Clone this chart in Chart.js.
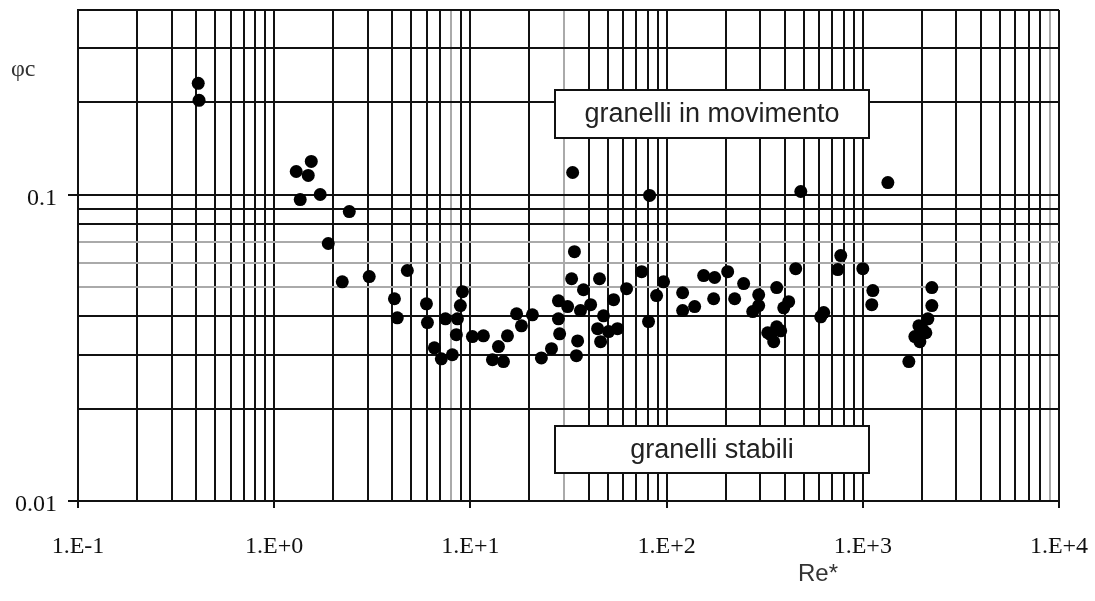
<!DOCTYPE html>
<html>
<head>
<meta charset="utf-8">
<script src="https://cdn.jsdelivr.net/npm/chart.js@4.4.1/dist/chart.umd.min.js"></script>
<style>
  html, body { margin: 0; padding: 0; background: #fff; overflow: hidden; }
  #wrap { width: 1095px; height: 601px; position: relative; }
  #chart { display: block; }
</style>
</head>
<body>
<div id="wrap"><canvas id="chart"></canvas></div>
<script>
// --- Data (Re*, phi_c) ---
const reValues = [
  0.41, 0.414, 1.295, 1.491, 1.545, 1.357, 1.716, 2.414, 1.886, 2.223,
  3.05, 4.77, 4.10, 4.24, 5.97, 6.04, 6.55, 7.11, 8.09, 7.46,
  8.59, 8.89, 9.11, 8.48, 10.24, 11.65, 33.2, 81.9, 33.9, 32.8,
  45.5, 37.7, 28.1, 31.3, 36.4, 41.0, 53.7, 62.5, 74.6, 96.5,
  88.9, 120.7, 120.7, 139, 154.5, 80.9, 47.7, 44.5, 50.6, 56.2,
  46.1, 35.2, 34.7, 28.5, 28.1, 20.7, 17.2, 18.2, 15.45, 13.9,
  12.95, 14.74, 25.9, 23.0, 483, 1342, 175.7, 204.8, 247, 173.7,
  222.3, 294.7, 364, 294.7, 274.8, 419, 395.4, 455, 364, 339.4,
  351.5, 381.6, 327.6, 632, 610.6, 772, 745.6, 1000, 1125, 1111,
  2249, 2249, 2146, 1931, 2096, 1842, 1954, 1717, 2023
];
const phiValues = [
  0.2306, 0.2029, 0.1189, 0.1154, 0.1282, 0.0963, 0.1000, 0.0880, 0.0692, 0.0519,
  0.0540, 0.0565, 0.0457, 0.0396, 0.0440, 0.0382, 0.0316, 0.0291, 0.0300, 0.0393,
  0.0393, 0.0434, 0.0482, 0.0349, 0.0344, 0.0346, 0.1180, 0.0993, 0.0651, 0.0531,
  0.0531, 0.0489, 0.0450, 0.0431, 0.0418, 0.0437, 0.0454, 0.0493, 0.0560, 0.0519,
  0.0468, 0.0478, 0.0418, 0.0431, 0.0544, 0.0385, 0.0402, 0.0365, 0.0357, 0.0365,
  0.0331, 0.0333, 0.0298, 0.0351, 0.0393, 0.0405, 0.0408, 0.0373, 0.0346, 0.0319,
  0.0289, 0.0285, 0.0314, 0.0293, 0.1023, 0.1094, 0.0536, 0.0560, 0.0512, 0.0457,
  0.0457, 0.0471, 0.0497, 0.0434, 0.0415, 0.0447, 0.0427, 0.0573, 0.0370, 0.0349,
  0.0331, 0.0359, 0.0354, 0.0412, 0.0399, 0.0632, 0.0569, 0.0573, 0.0486, 0.0437,
  0.0497, 0.0434, 0.0393, 0.0373, 0.0354, 0.0344, 0.0331, 0.0285, 0.0362
];

// --- Axis ticks ---
const xTickValues = [0.1, 1, 10, 100, 1000, 10000];
const xTickLabels = ['1.E-1', '1.E+0', '1.E+1', '1.E+2', '1.E+3', '1.E+4'];
const yTickValues = [0.01, 0.1];
const yTickLabels = ['0.01', '0.1'];
const yMax = 0.4;

// gridlines that show up faint grey in the original
const xFaintLines = [8, 30, 9000];
const yFaintLines = [0.05, 0.06, 0.07];

const boxLabels = ['granelli in movimento', 'granelli stabili'];

// minor grid: 1..9 x each decade
function decadeGrid(decades, top) {
    const out = [];
    decades.forEach((d, i) => {
        out.push(d);
        if (i === decades.length - 1) return;
        for (let k = 2; k <= 9; k++) {
            const v = +(k * d).toPrecision(6);
            if (v <= top) out.push(v);
        }
    });
    return out;
}
const xGrid = decadeGrid(xTickValues, 10000);
const yGrid = decadeGrid(yTickValues.concat([1]), yMax).filter(v => v <= yMax);

const points = reValues.map((x, i) => ({ x, y: phiValues[i] }));

const LINE = '#111';
const FAINT = '#aaa';

const annotations = {
    id: 'annotations',
    afterDraw(chart) {
        const ctx = chart.ctx;
        ctx.save();
        // text boxes
        const boxes = [
            { x: 555, y: 90, w: 314, h: 48, text: boxLabels[0] },
            { x: 555, y: 426, w: 314, h: 47, text: boxLabels[1] }
        ];
        boxes.forEach(b => {
            ctx.fillStyle = '#fff';
            ctx.fillRect(b.x, b.y, b.w, b.h);
            ctx.strokeStyle = LINE;
            ctx.lineWidth = 2;
            ctx.strokeRect(b.x, b.y, b.w, b.h);
            ctx.fillStyle = '#222';
            ctx.font = '27px "Liberation Sans", Arial, sans-serif';
            ctx.textAlign = 'center';
            ctx.textBaseline = 'middle';
            ctx.fillText(b.text, b.x + b.w / 2, b.y + b.h / 2 + 1);
        });
        // axis titles
        ctx.fillStyle = '#333';
        ctx.font = '24px "Liberation Sans", Arial, sans-serif';
        ctx.textAlign = 'center';
        ctx.textBaseline = 'alphabetic';
        ctx.fillText('Re*', 818, 581);
        ctx.font = '24px "Liberation Serif", "Times New Roman", serif';
        ctx.textAlign = 'left';
        ctx.fillText('φc', 11, 76);
        ctx.restore();
    }
};

const tickFont = { family: '"Liberation Serif", "Times New Roman", serif', size: 24 };

function noPad(scale) {
    scale.paddingTop = 0;
    scale.paddingBottom = 0;
    scale.paddingLeft = 0;
    scale.paddingRight = 0;
}

new Chart(document.getElementById('chart'), {
    type: 'scatter',
    data: {
        datasets: [{
            data: points,
            backgroundColor: '#000',
            borderWidth: 0,
            pointRadius: 6.5,
            pointHoverRadius: 6.5
        }]
    },
    options: {
        responsive: true,
        maintainAspectRatio: false,
        animation: false,
        events: [],
        layout: { padding: { top: 10, right: 36, left: 0, bottom: 0 } },
        plugins: { legend: { display: false }, tooltip: { enabled: false } },
        scales: {
            x: {
                type: 'logarithmic',
                min: 0.1,
                max: 10000,
                afterBuildTicks: (scale) => {
                    scale.ticks = xGrid.map(v => ({ value: v, major: xTickValues.includes(v) }));
                },
                afterFit: (scale) => { scale.height = 100; noPad(scale); },
                ticks: {
                    autoSkip: false,
                    maxRotation: 0,
                    padding: 24,
                    color: '#111',
                    font: tickFont,
                    callback: (value) => {
                        const i = xTickValues.indexOf(value);
                        return i >= 0 ? xTickLabels[i] : '';
                    }
                },
                grid: {
                    lineWidth: 2,
                    color: (c) => xFaintLines.includes(c.tick && c.tick.value) ? FAINT : LINE,
                    tickLength: 7,
                    tickColor: (c) => c.tick && xTickValues.includes(c.tick.value) ? LINE : 'rgba(0,0,0,0)'
                },
                border: { display: true, color: LINE, width: 2 }
            },
            y: {
                type: 'logarithmic',
                min: 0.01,
                max: yMax,
                afterBuildTicks: (scale) => {
                    scale.ticks = yGrid.map(v => ({ value: v, major: yTickValues.includes(v) }));
                },
                afterFit: (scale) => { scale.width = 78; noPad(scale); },
                ticks: {
                    autoSkip: false,
                    padding: 11,
                    labelOffset: 4,
                    color: '#111',
                    font: tickFont,
                    callback: (value) => {
                        const i = yTickValues.indexOf(value);
                        return i >= 0 ? yTickLabels[i] : '';
                    }
                },
                grid: {
                    lineWidth: 2,
                    color: (c) => yFaintLines.includes(c.tick && c.tick.value) ? FAINT : LINE,
                    tickLength: 10,
                    tickColor: (c) => c.tick && yTickValues.includes(c.tick.value) ? LINE : 'rgba(0,0,0,0)'
                },
                border: { display: true, color: LINE, width: 2 }
            }
        }
    },
    plugins: [annotations]
});
</script>
</body>
</html>
